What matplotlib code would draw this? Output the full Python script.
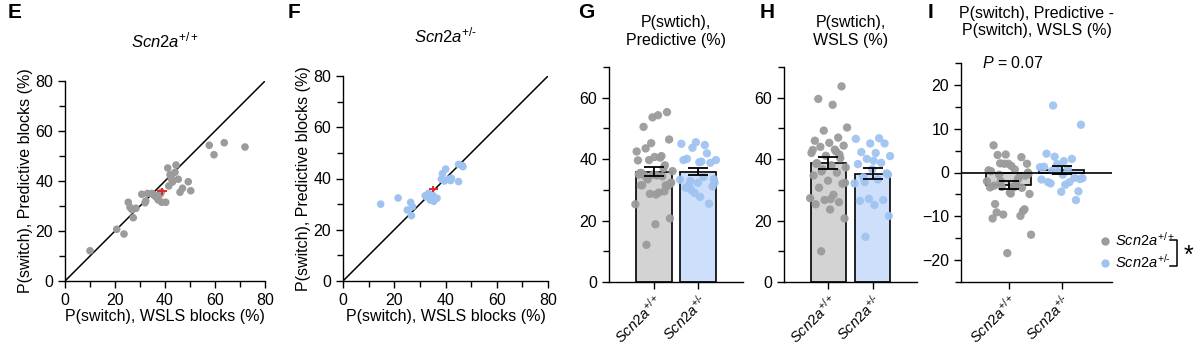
import numpy as np
import matplotlib
matplotlib.use("Agg")
import matplotlib.pyplot as plt
from matplotlib.ticker import MultipleLocator

plt.rcParams['font.family'] = ['Liberation Sans', 'DejaVu Sans']
plt.rcParams['mathtext.fontset'] = 'custom'
plt.rcParams['mathtext.rm'] = 'Liberation Sans'
plt.rcParams['mathtext.it'] = 'Liberation Sans:italic'
plt.rcParams['font.size'] = 11

# per-animal P(switch) values (%)
wt_wsls = [10.0, 20.7, 23.6, 25.3, 26.0, 26.7, 27.3, 28.4, 30.7, 32.0, 33.0, 34.7, 35.6,
           36.7, 37.3, 38.0, 38.7, 40.3, 41.1, 42.0, 43.1, 44.0, 44.4, 45.3, 46.0, 47.0,
           49.3, 50.3, 57.7, 59.6, 63.7, 72.0, 43.0, 42.5, 36.0, 32.3, 27.0, 38.5, 41.5]
wt_pred = [12.1, 20.7, 18.8, 31.5, 29.5, 28.7, 25.3, 29.1, 34.7, 31.3, 35.0, 35.0, 34.4,
           33.4, 32.4, 34.7, 31.5, 31.5, 45.2, 42.5, 40.5, 43.5, 46.4, 40.7, 35.5, 37.1,
           39.7, 36.1, 54.3, 50.5, 55.3, 53.6, 39.6, 41.0, 34.0, 32.0, 28.5, 35.5, 38.0]
het_wsls = [14.7, 21.5, 25.1, 26.4, 26.7, 27.1, 32.1, 33.4, 34.1, 35.4, 36.7, 38.4,
            38.8, 40.1, 41.0, 42.0, 42.3, 45.1, 45.1, 46.6, 46.8, 32.5, 35.0, 39.5]
het_pred = [30.0, 32.4, 27.7, 30.7, 25.5, 29.0, 33.3, 34.2, 31.6, 31.1, 32.3, 39.7,
            41.9, 43.7, 39.7, 39.2, 40.1, 38.8, 45.5, 45.0, 44.6, 32.9, 33.5, 39.0]

wt_label = r'$\it{Scn2a}^{+/+}$'
het_label = '$\\it{Scn2a}^{+/\u2010}$'
group_labels = [wt_label, het_label]
p_text = r'$\it{P}$ = 0.07'

grey_pt = '#9b9b9b'
blue_pt = '#9fc3f1'
grey_bar = '#d3d3d3'
blue_bar = '#cddffa'

W, H = 1200, 347
fig = plt.figure(figsize=(W / 100, H / 100), dpi=100)


def add_ax(x0, y0, x1, y1):
    # pixel box (top-left origin) -> figure axes
    return fig.add_axes([x0 / W, 1 - y1 / H, (x1 - x0) / W, (y1 - y0) / H])


def style(ax):
    for s in ['top', 'right']:
        ax.spines[s].set_visible(False)
    for s in ['left', 'bottom']:
        ax.spines[s].set_linewidth(1.0)
    ax.tick_params(which='both', direction='out', length=5, width=1.0, labelsize=11.5)
    ax.tick_params(which='minor', length=4)


def sem(v):
    v = np.asarray(v)
    return v.std(ddof=1) / np.sqrt(len(v))


def scatter_panel(ax, xs, ys, col, title):
    style(ax)
    ax.plot([0, 80], [0, 80], color='black', lw=1.1, zorder=1)
    ax.scatter(xs, ys, s=30, color=col, edgecolors='none', zorder=2, clip_on=False)
    ax.errorbar(np.mean(xs), np.mean(ys), xerr=sem(xs), yerr=sem(ys), color='#e8262a',
                lw=1.4, capsize=0, zorder=3)
    ax.set_xlim(0, 80)
    ax.set_ylim(0, 80)
    ax.xaxis.set_major_locator(MultipleLocator(20))
    ax.yaxis.set_major_locator(MultipleLocator(20))
    ax.xaxis.set_minor_locator(MultipleLocator(10))
    ax.yaxis.set_minor_locator(MultipleLocator(10))
    ax.set_xlabel('P(switch), WSLS blocks (%)', fontsize=11.5, labelpad=1)
    ax.set_ylabel('P(switch), Predictive blocks (%)', fontsize=11.5, labelpad=2)
    ax.set_title(title, fontsize=12, pad=24)


def jitter(n, spread):
    # deterministic horizontal spread of the dots over the bar
    return ((np.arange(n) * 0.618034 + 0.31) % 1.0 - 0.5) * spread


def bar_panel(ax, groups, title, width=0.8, spread=0.85):
    style(ax)
    cols = [grey_pt, blue_pt]
    bcols = [grey_bar, blue_bar]
    for i, g in enumerate(groups):
        g = np.asarray(g)
        ax.bar(i, g.mean(), width=width, color=bcols[i], edgecolor='black', lw=1.2, zorder=1)
        ax.scatter(i + jitter(len(g), spread), g, s=36, color=cols[i], edgecolors='none',
                   zorder=2, alpha=0.95)
        ax.errorbar(i, g.mean(), yerr=sem(g), color='black', lw=1.3, capsize=7,
                    capthick=1.3, zorder=3)
    ax.set_xticks([0, 1])
    ax.set_xticklabels(group_labels, rotation=45, ha='right', rotation_mode='anchor',
                       fontsize=10.5)
    ax.tick_params(axis='x', pad=2)
    ax.set_title(title, fontsize=11.5, pad=16, linespacing=1.2)


# E
axE = add_ax(65, 81, 265, 281)
scatter_panel(axE, wt_wsls, wt_pred, grey_pt, wt_label)
# F
axF = add_ax(343, 76, 548, 281)
scatter_panel(axF, het_wsls, het_pred, blue_pt, het_label)

# G
axG = add_ax(609, 67, 743, 282)
bar_panel(axG, [wt_pred, het_pred], 'P(swtich),\nPredictive (%)')
axG.set_xlim(-1, 2)
axG.set_ylim(0, 70)
axG.yaxis.set_major_locator(MultipleLocator(20))
axG.yaxis.set_minor_locator(MultipleLocator(10))

# H
axH = add_ax(784, 67, 917, 282)
bar_panel(axH, [wt_wsls, het_wsls], 'P(swtich),\nWSLS (%)')
axH.set_xlim(-1, 2)
axH.set_ylim(0, 70)
axH.yaxis.set_major_locator(MultipleLocator(20))
axH.yaxis.set_minor_locator(MultipleLocator(10))

# I
wt_diff = np.array(wt_pred) - np.array(wt_wsls)
het_diff = np.array(het_pred) - np.array(het_wsls)
axI = add_ax(961, 63, 1112, 282)
axI.axhline(0, color='black', lw=1.2, zorder=4)
bar_panel(axI, [wt_diff, het_diff], 'P(switch), Predictive -\nP(switch), WSLS (%)',
          width=0.85, spread=0.85)
axI.set_xlim(-0.9, 1.95)
axI.set_ylim(-25, 25)
axI.yaxis.set_major_locator(MultipleLocator(10))
axI.yaxis.set_minor_locator(MultipleLocator(5))
axI.set_title('P(switch), Predictive -\nP(switch), WSLS (%)', fontsize=11.5, pad=20,
              linespacing=1.2)
axI.text(0.08, 25, p_text, ha='center', va='center', fontsize=11.5)

# legend with significance bracket
leg = axI.legend(handles=[
    plt.Line2D([], [], marker='o', ls='', color=grey_pt, markersize=5, label=wt_label),
    plt.Line2D([], [], marker='o', ls='', color=blue_pt, markersize=5, label=het_label)],
    loc='center left', bbox_to_anchor=(1090 / W, 1 - 251 / H),
    bbox_transform=fig.transFigure, frameon=False, handletextpad=0.1,
    handlelength=1.2, labelspacing=0.3, fontsize=10.5, borderaxespad=0)
fig.lines.append(plt.Line2D([1170 / W, 1177 / W, 1177 / W, 1170 / W],
                            [1 - 240 / H, 1 - 240 / H, 1 - 266 / H, 1 - 266 / H],
                            transform=fig.transFigure, color='black', lw=1.1))
fig.text(1188 / W, 1 - 256 / H, '*', fontsize=18, ha='center', va='center')

# panel letters
for letter, px in [('E', 8), ('F', 288), ('G', 578), ('H', 760), ('I', 928)]:
    fig.text(px / W, 1 - 12 / H, letter, fontsize=15, fontweight='bold', ha='left',
             va='center')

fig.savefig('out.png', dpi=100)
